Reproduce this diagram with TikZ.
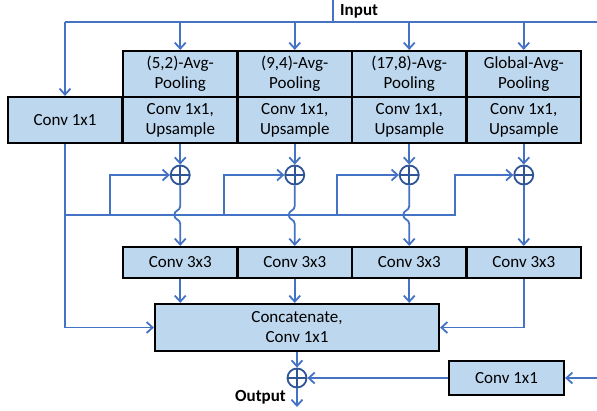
\documentclass[tikz,border=0pt]{standalone}
\usepackage{fontspec}
\setmainfont{Carlito}
\usetikzlibrary{arrows.meta}
\definecolor{boxblue}{RGB}{189,215,238}
\definecolor{lineblue}{RGB}{68,114,196}
\definecolor{sumblue}{RGB}{47,85,151}
\tikzset{
  blk/.style={draw=black,line width=2.2pt,fill=boxblue,inner sep=0pt,align=center,
    font=\fontsize{17}{20}\selectfont},
  con/.style={draw=lineblue,line width=1.8pt},
  arr/.style={con,-{Straight Barb[length=6pt,width=11pt,line width=1.8pt]}},
  plus/.style={circle,draw=sumblue,line width=1.8pt,minimum size=19pt,inner sep=0pt,
    path picture={\draw[sumblue,line width=1.8pt]
      (path picture bounding box.north) -- (path picture bounding box.south)
      (path picture bounding box.west) -- (path picture bounding box.east);}},
  lbl/.style={font=\bfseries\fontsize{17}{20}\selectfont,inner sep=0pt},
}
\begin{document}
\begin{tikzpicture}[x=1pt,y=-1pt]
\useasboundingbox (0,0) rectangle (597,410);
% pooling branches
\node[blk,minimum width=114.5pt,minimum height=46pt] (p1) at (180.25,74) {(5,2)-Avg-\\Pooling};
\node[blk,minimum width=114.5pt,minimum height=46pt] (p2) at (294.75,74) {(9,4)-Avg-\\Pooling};
\node[blk,minimum width=114.5pt,minimum height=46pt] (p3) at (409.25,74) {(17,8)-Avg-\\Pooling};
\node[blk,minimum width=114.5pt,minimum height=46pt] (p4) at (523.75,74) {Global-Avg-\\Pooling};
\foreach \i/\x in {1/180.25,2/294.75,3/409.25,4/523.75} {
  \node[blk,minimum width=114.5pt,minimum height=46pt] (u\i) at (\x,120) {Conv 1x1,\\Upsample};
  \node[plus] (s\i) at (\x,175) {};
  \node[blk,minimum width=114.5pt,minimum height=31pt] (c\i) at (\x,262.5) {Conv 3x3};
}
\node[blk,minimum width=114pt,minimum height=46pt] (cv) at (65,120) {Conv 1x1};
\node[blk,minimum width=284pt,minimum height=47pt] (cat) at (297,327.5) {Concatenate,\\Conv 1x1};
\node[plus] (so) at (297,378) {};
\node[blk,minimum width=115pt,minimum height=34pt] (rc) at (506.5,378) {Conv 1x1};
\node[lbl,anchor=west] (inlbl) at (340,11) {Input};
\node[lbl,anchor=east] (outlbl) at (286,397) {Output};
\coordinate (in) at (333,0);
\coordinate (tl) at (65,22);
\coordinate (tr) at (597,22);
\coordinate (bus) at (65,215);
\coordinate (b4) at (455,215);
\coordinate (res) at (597,378);
\coordinate (out) at (297,407);
% input
\draw[con] (in) -- (in |- tl);
\draw[con] (tl) -- (tr);
\draw[arr] (tl) -- (cv);
\foreach \i in {1,...,4} {
  \draw[arr] (p\i |- tl) -- (p\i);
  \draw[arr] (u\i) -- (s\i);
}
% shortcut bus
\draw[arr] (cv) |- (cat);
\draw[arr] (bus) -- (b4) |- (s4);
\foreach \i/\x in {1/110,2/224,3/337} {
  \coordinate (b\i) at (\x,215);
  \draw[arr] (b\i) |- (s\i);
}
% sums to conv 3x3 (hop over the bus)
\foreach \i in {1,2,3} {
  \coordinate (h\i) at (s\i |- bus);
  \draw[arr] (s\i) -- ([yshift=9pt]h\i) .. controls +(0,5) and +(0,-5) .. ([xshift=-6pt]h\i)
    .. controls +(0,5) and +(0,-5) .. ([yshift=-9pt]h\i) -- (c\i);
  \draw[arr] (c\i) -- (c\i |- cat.north);
}
\draw[arr] (s4) -- (c4);
\draw[arr] (c4) |- (cat);
% output
\draw[arr] (cat) -- (so);
\draw[arr] (so) -- (out);
\draw[arr] (res) -- (rc);
\draw[arr] (rc) -- (so);
\end{tikzpicture}
\end{document}
